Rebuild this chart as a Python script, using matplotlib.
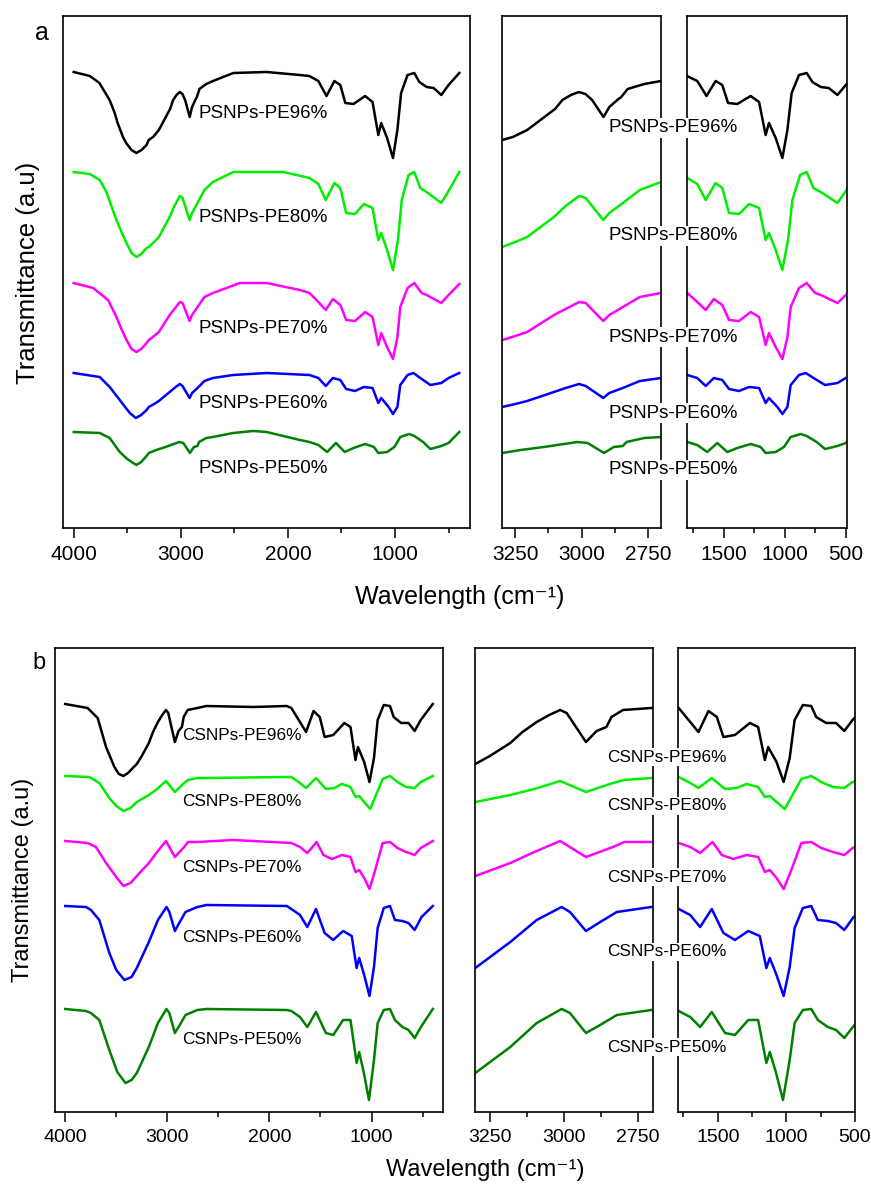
#!/usr/bin/env python3
"""
FTIR spectra of PSNPs-PE and CSNPs-PE films.
Full range plus two zoomed windows (C-H stretch, fingerprint region).
"""

import matplotlib
matplotlib.use('Agg')
import matplotlib.pyplot as plt
from matplotlib.ticker import MultipleLocator

plt.rcParams['font.family'] = ['Liberation Sans', 'DejaVu Sans']

# ---- panel a: PSNPs-PE (wavenumber in cm-1, transmittance in a.u., stacked) ----
wn_a96 = [4000, 3850, 3760, 3665, 3617, 3590, 3540, 3510, 3461, 3415, 3367, 3320, 3300, 3259,
          3205, 3100, 3072, 3040, 3010, 2985, 2960, 2917, 2895, 2865, 2850, 2826, 2763, 2700,
          2510, 2200, 1890, 1800, 1716, 1640, 1566, 1511, 1464, 1388, 1279, 1210, 1156, 1129,
          1074, 1019, 978, 943, 883, 820, 773, 705, 640, 568, 500, 400]
t_a96 = [456, 452, 445, 428, 415, 405, 391, 385, 378, 375, 378, 383, 388, 391,
         398, 419, 428, 433, 436, 434, 428, 411, 421, 428, 431, 439, 444, 447,
         455, 456, 453, 452, 447, 432, 447, 443, 425, 424, 432, 426, 393, 405,
         390, 370, 398, 435, 453, 455, 446, 441, 440, 433, 443, 455]

wn_a80 = [4000, 3850, 3757, 3695, 3601, 3550, 3507, 3460, 3414, 3370, 3320, 3299, 3250, 3205,
          3104, 3060, 3009, 2984, 2918, 2895, 2844, 2780, 2700, 2511, 2043, 1798, 1716, 1647,
          1566, 1511, 1456, 1374, 1292, 1210, 1156, 1129, 1074, 1019, 973, 937, 874, 820,
          765, 705, 568, 500, 400]
t_a80 = [356, 354, 348, 336, 308, 295, 285, 275, 271, 274, 280, 281, 286, 291,
         311, 322, 332, 330, 308, 315, 325, 338, 346, 356, 356, 350, 344, 328,
         345, 340, 315, 314, 324, 320, 288, 295, 278, 258, 288, 328, 353, 356,
         340, 336, 325, 337, 356]

wn_a70 = [4000, 3819, 3679, 3601, 3555, 3507, 3460, 3414, 3370, 3320, 3299, 3250, 3205, 3104,
          3060, 3009, 2984, 2918, 2895, 2844, 2780, 2700, 2449, 2199, 1888, 1798, 1716, 1647,
          1580, 1511, 1456, 1374, 1279, 1210, 1156, 1129, 1074, 1019, 978, 951, 883, 820,
          751, 705, 568, 500, 400]
t_a70 = [245, 240, 228, 211, 199, 188, 179, 176, 179, 185, 188, 192, 196, 213,
         219, 226, 225, 207, 213, 221, 231, 235, 245, 245, 238, 235, 226, 218,
         229, 223, 208, 207, 216, 211, 183, 195, 181, 169, 191, 221, 240, 245,
         235, 233, 225, 233, 244]

wn_a60 = [4000, 3757, 3664, 3570, 3520, 3476, 3420, 3370, 3320, 3299, 3250, 3205, 3104, 3060,
          3009, 2984, 2918, 2895, 2844, 2780, 2700, 2511, 2199, 1798, 1716, 1647, 1580, 1511,
          1456, 1374, 1292, 1210, 1156, 1129, 1060, 1019, 978, 951, 883, 828, 751, 670,
          568, 500, 400]
t_a60 = [155, 151, 141, 128, 121, 115, 110, 113, 118, 121, 124, 127, 136, 140,
         144, 142, 130, 135, 140, 147, 150, 153, 155, 153, 150, 142, 150, 148,
         139, 137, 141, 140, 125, 130, 121, 114, 121, 143, 153, 155, 149, 143,
         145, 150, 155]

wn_a50 = [4000, 3757, 3664, 3570, 3500, 3445, 3414, 3370, 3320, 3299, 3230, 3142, 3015, 2977,
          2915, 2878, 2844, 2830, 2763, 2700, 2511, 2324, 2199, 1888, 1798, 1716, 1634, 1552,
          1470, 1388, 1279, 1197, 1156, 1074, 1006, 951, 869, 820, 738, 670, 568, 500, 400]
t_a50 = [96, 95, 90, 76, 69, 65, 63, 66, 72, 75, 78, 81, 86, 85,
         75, 81, 82, 86, 90, 91, 95, 97, 96, 88, 86, 83, 76, 85,
         76, 80, 84, 81, 75, 76, 81, 91, 94, 92, 86, 79, 82, 85, 96]

# ---- panel b: CSNPs-PE ----
wn_b96 = [4000, 3781, 3682, 3600, 3518, 3475, 3430, 3385, 3338, 3299, 3250, 3181, 3140, 3092,
          3050, 3013, 2991, 2926, 2890, 2857, 2840, 2801, 2706, 2617, 2158, 1830, 1785, 1725,
          1641, 1568, 1507, 1459, 1375, 1266, 1206, 1157, 1133, 1072, 1020, 976, 940, 880,
          819, 783, 710, 638, 578, 518, 400]
t_b96 = [408, 404, 394, 365, 345, 338, 336, 339, 344, 348, 356, 369, 380, 390,
         397, 402, 399, 370, 381, 385, 395, 402, 404, 406, 405, 406, 404, 394,
         380, 401, 395, 375, 377, 389, 385, 352, 365, 350, 330, 354, 392, 407,
         406, 395, 389, 389, 381, 392, 408]

wn_b80 = [4000, 3763, 3666, 3568, 3500, 3430, 3360, 3299, 3181, 3100, 3013, 2926, 2835, 2797,
          2706, 2617, 1830, 1785, 1701, 1641, 1544, 1447, 1363, 1290, 1206, 1157, 1121, 1072,
          1012, 964, 891, 819, 746, 662, 578, 518, 400]
t_b80 = [336, 335, 329, 314, 306, 301, 304, 310, 317, 323, 331, 320, 329, 332,
         334, 334, 335, 335, 329, 324, 334, 323, 324, 328, 325, 315, 316, 310,
         303, 315, 333, 336, 330, 325, 324, 330, 336]

wn_b70 = [4000, 3781, 3699, 3600, 3500, 3430, 3360, 3299, 3181, 3100, 3013, 2926, 2835, 2797,
          2706, 2355, 1785, 1701, 1629, 1538, 1471, 1387, 1290, 1206, 1157, 1121, 1072, 1020,
          964, 891, 819, 746, 662, 578, 518, 400]
t_b70 = [271, 269, 265, 249, 235, 226, 229, 236, 249, 260, 271, 255, 265, 270,
         270, 272, 269, 265, 259, 270, 257, 253, 257, 255, 240, 242, 234, 223,
         242, 269, 270, 264, 260, 257, 264, 271]

wn_b60 = [4000, 3797, 3748, 3666, 3568, 3500, 3420, 3350, 3299, 3240, 3181, 3092, 3008, 2980,
          2926, 2878, 2822, 2706, 2617, 1830, 1785, 1701, 1629, 1544, 1459, 1375, 1278, 1194,
          1146, 1121, 1072, 1020, 976, 940, 880, 819, 771, 698, 638, 578, 510, 400]
t_b60 = [206, 205, 202, 192, 159, 142, 132, 135, 144, 157, 170, 192, 205, 200,
         181, 190, 200, 205, 207, 206, 203, 197, 185, 203, 179, 172, 181, 176,
         144, 154, 137, 116, 145, 184, 204, 206, 192, 191, 189, 182, 195, 206]

wn_b50 = [4000, 3797, 3748, 3666, 3568, 3490, 3410, 3350, 3299, 3240, 3181, 3092, 3008, 2980,
          2926, 2878, 2822, 2706, 2617, 1830, 1785, 1701, 1629, 1544, 1447, 1375, 1278, 1206,
          1146, 1121, 1077, 1025, 976, 940, 880, 819, 771, 698, 638, 578, 510, 400]
t_b50 = [103, 101, 99, 92, 62, 40, 29, 32, 39, 52, 65, 89, 103, 99,
         79, 87, 97, 102, 103, 102, 101, 95, 85, 100, 79, 77, 92, 92,
         49, 60, 40, 12, 52, 89, 102, 103, 92, 85, 82, 74, 86, 103]

labels_a = ['PSNPs-PE96%', 'PSNPs-PE80%', 'PSNPs-PE70%', 'PSNPs-PE60%', 'PSNPs-PE50%']
labels_b = ['CSNPs-PE96%', 'CSNPs-PE80%', 'CSNPs-PE70%', 'CSNPs-PE60%', 'CSNPs-PE50%']
colors = ['black', '#00ee00', '#ff00ff', '#0000ff', '#008000']

W, H = 871, 1189


def rect(left, right, top, bottom):
    """Pixel box -> figure fraction [l, b, w, h]."""
    return [left / W, 1 - bottom / H, (right - left) / W, (bottom - top) / H]


def fig_text(fig, x, y, s, **kw):
    fig.text(x / W, 1 - y / H, s, **kw)


def draw_panel(fig, boxes, xlims, locs, spectra, labels, ylim, lab_full, lab_side, fs):
    axes = []
    for box, xl, (maj, mnr) in zip(boxes, xlims, locs):
        ax = fig.add_axes(box)
        for (wn, t), c in zip(spectra, colors):
            ax.plot(wn, t, color=c, lw=1.8, solid_joinstyle='round')
        ax.set_xlim(*xl)
        ax.set_ylim(*ylim)
        ax.set_yticks([])
        ax.xaxis.set_major_locator(MultipleLocator(maj))
        ax.xaxis.set_minor_locator(MultipleLocator(mnr))
        ax.tick_params(axis='x', which='major', direction='out', length=7, width=1.1,
                       labelsize=fs['tick'], pad=5)
        ax.tick_params(axis='x', which='minor', direction='out', length=3.5, width=1.1)
        for sp in ax.spines.values():
            sp.set_linewidth(1.2)
        axes.append(ax)

    # labels inside the full-range axes
    for lab, (x, y) in zip(labels, lab_full):
        axes[0].text(x, y, lab, ha='center', va='center', fontsize=fs['lab'])
    # labels straddling the two zoom windows
    sx, sys_ = lab_side
    for lab, y in zip(labels, sys_):
        fig_text(fig, sx, y, lab, ha='center', va='center', fontsize=fs['lab'],
                 bbox=dict(facecolor='white', edgecolor='none', pad=1.0), zorder=10)
    return axes


fig = plt.figure(figsize=(W / 100, H / 100), dpi=100)

spectra_a = [(wn_a96, t_a96), (wn_a80, t_a80), (wn_a70, t_a70), (wn_a60, t_a60), (wn_a50, t_a50)]
spectra_b = [(wn_b96, t_b96), (wn_b80, t_b80), (wn_b70, t_b70), (wn_b60, t_b60), (wn_b50, t_b50)]
locs = [(1000, 500), (250, 125), (500, 250)]

draw_panel(fig,
           [rect(63, 470, 16, 528), rect(502, 661, 16, 528), rect(687, 847, 16, 528)],
           [(4100, 300), (3300, 2700), (1800, 490)], locs, spectra_a, labels_a, (0, 512),
           [(2234, 415), (2234, 311), (2234, 200), (2234, 125), (2234, 60)],
           (673, [128, 236, 337, 413, 470]),
           {'tick': 15, 'lab': 13.5})

draw_panel(fig,
           [rect(55, 443, 648, 1112), rect(475, 653, 648, 1112), rect(678, 855, 648, 1112)],
           [(4100, 300), (3300, 2700), (1790, 500)], locs, spectra_b, labels_b, (0, 464),
           [(2269, 376), (2269, 310), (2269, 244), (2269, 174), (2269, 73)],
           (667, [757, 806, 877, 952, 1047]),
           {'tick': 14, 'lab': 12.4})

# panel letters and axis titles
xlabel = 'Wavelength (cm\u207b\u00b9)'
fig_text(fig, 42, 33, 'a', ha='center', va='center', fontsize=18)
fig_text(fig, 39, 663, 'b', ha='center', va='center', fontsize=17)
fig_text(fig, 28, 273, 'Transmittance (a.u)', ha='center', va='center', rotation=90, fontsize=18.5)
fig_text(fig, 23, 880, 'Transmittance (a.u)', ha='center', va='center', rotation=90, fontsize=17)
fig_text(fig, 460, 597, xlabel, ha='center', va='center', fontsize=18)
fig_text(fig, 485, 1170, xlabel, ha='center', va='center', fontsize=17)

plt.savefig('out.png', dpi=100)
